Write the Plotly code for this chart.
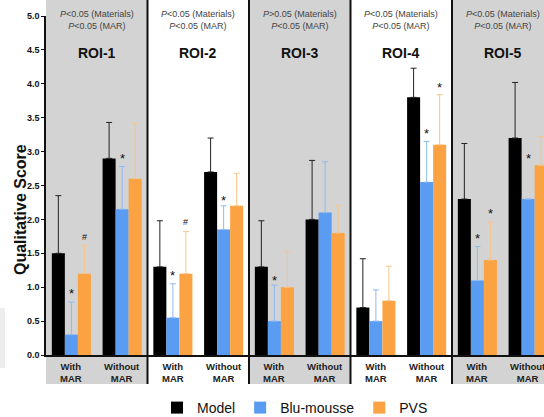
import plotly.graph_objects as go

rois = ["ROI-1", "ROI-2", "ROI-3", "ROI-4", "ROI-5"]
conditions = ["With<br>MAR", "Without<br>MAR"]
p_materials = ["<", "<", ">", "<", "<"]
p_mar = ["<", "<", "<", "<", "<"]

# values in order: ROI-1 With, ROI-1 Without, ROI-2 With, ...
model = [1.5, 2.9, 1.3, 2.7, 1.3, 2.0, 0.7, 3.8, 2.3, 3.2]
model_err = [0.85, 0.53, 0.68, 0.5, 0.68, 0.87, 0.72, 0.43, 0.82, 0.82]
blu = [0.3, 2.15, 0.55, 1.85, 0.5, 2.1, 0.5, 2.55, 1.1, 2.3]
blu_err = [0.48, 0.63, 0.5, 0.35, 0.53, 0.75, 0.46, 0.6, 0.5, 0.0]
pvs = [1.2, 2.6, 1.2, 2.2, 1.0, 1.8, 0.8, 3.1, 1.4, 2.8]
pvs_err = [0.42, 0.82, 0.62, 0.48, 0.53, 0.4, 0.51, 0.74, 0.56, 0.42]

# significance marks: (bar index, series, symbol, y value)
marks = [
    (0, 1, "*", 0.9), (0, 2, "#", 1.74), (1, 1, "*", 2.9),
    (2, 1, "*", 1.17), (2, 2, "#", 1.96), (3, 1, "*", 2.28),
    (4, 1, "*", 1.1), (7, 1, "*", 3.27), (7, 2, "*", 3.95),
    (8, 1, "*", 1.72), (8, 2, "*", 2.08), (9, 1, "*", 2.9),
]

FONT = "Arial, Liberation Sans, sans-serif"
BAR_COLORS = ["#000000", "#5A9CF2", "#FBA242"]
ERR_COLORS = ["#222222", "#8DBBF4", "#F9C48A"]
NAMES = ["Model", "Blu-mousse", "PVS"]

xpos = [r + 0.25 + 0.5 * c for r in range(len(rois)) for c in range(len(conditions))]

fig = go.Figure()
for s, (vals, errs) in enumerate([(model, model_err), (blu, blu_err), (pvs, pvs_err)]):
    fig.add_trace(go.Bar(
        x=xpos, y=vals, name=NAMES[s], marker_color=BAR_COLORS[s], marker_line_width=0,
        error_y=dict(type="data", array=errs, arrayminus=[0] * len(errs), symmetric=False,
                     color=ERR_COLORS[s], thickness=1, width=3),
        hoverinfo="skip",
    ))

plot_h = 417 - 16 - 62
top_ext = 1 + 16 / plot_h
bot_ext = -29 / plot_h

shapes = []
for r in range(len(rois)):
    if r % 2 == 0:
        shapes.append(dict(type="rect", xref="x", yref="paper", x0=r, x1=r + 1,
                           y0=bot_ext, y1=top_ext + 0.1, fillcolor="#D3D3D3",
                           line_width=0, layer="below"))
for r in range(1, len(rois)):
    shapes.append(dict(type="line", xref="x", yref="paper", x0=r, x1=r,
                       y0=bot_ext, y1=top_ext + 0.1, line=dict(color="#111111", width=2)))
# faint block at the far left edge
shapes.append(dict(type="rect", xref="paper", yref="paper", x0=-46 / 498, x1=-41 / 498,
                   y0=-13 / plot_h, y1=47 / plot_h, fillcolor="#EDEDED", line_width=0,
                   layer="below"))

ann = []
for r, name in enumerate(rois):
    ann.append(dict(x=r + 0.5, y=4.45, xref="x", yref="y", text=f"<b>{name}</b>",
                    showarrow=False, font=dict(size=14, family=FONT, color="#111111")))
    ann.append(dict(x=r + 0.5, y=top_ext - 20 / plot_h, xref="x", yref="paper",
                    text=f"<i>P</i>{p_materials[r]}0.05 (Materials)<br><i>P</i>{p_mar[r]}0.05 (MAR)",
                    showarrow=False, yanchor="middle",
                    font=dict(size=9, family=FONT, color="#444444")))
    for c, cond in enumerate(conditions):
        ann.append(dict(x=r + 0.25 + 0.5 * c, y=-17 / plot_h, xref="x", yref="paper",
                        text=f"<b>{cond}</b>", showarrow=False, yanchor="middle",
                        font=dict(size=9.5, family=FONT, color="#222222")))

bar_w = 0.5 * (1 - 0.23) / 3
for idx, s, sym, yv in marks:
    ann.append(dict(x=xpos[idx] + (s - 1) * bar_w, y=yv, xref="x", yref="y", text=sym,
                    showarrow=False, yanchor="middle",
                    font=dict(size=13 if sym == "*" else 9, family=FONT, color="#111111")))

ann.append(dict(x=-26 / 498, y=(355 - 210) / plot_h, xref="paper", yref="paper",
                text="<b>Qualitative Score</b>", textangle=-90, showarrow=False,
                xanchor="center", yanchor="middle",
                font=dict(size=16, family=FONT, color="#111111")))

fig.update_layout(
    width=544, height=417,
    margin=dict(l=46, r=0, t=16, b=62, autoexpand=False),
    paper_bgcolor="white", plot_bgcolor="white",
    barmode="group", bargap=0.23, bargroupgap=0,
    shapes=shapes, annotations=ann,
    font=dict(family=FONT),
    showlegend=True,
    legend=dict(orientation="h", x=0.5, xanchor="center", y=-53 / plot_h, yanchor="middle",
                font=dict(size=14, family=FONT, color="#111111"), itemwidth=30),
    xaxis=dict(range=[0, 498 / 101.5], showticklabels=False, ticks="", showgrid=False,
               zeroline=False, showline=True, linecolor="#111111", linewidth=1.5,
               automargin=False),
    yaxis=dict(range=[0, 5.0], dtick=0.5, tickformat=".1f", showgrid=False, zeroline=False,
               showline=True, linecolor="#111111", linewidth=1.5, ticks="outside", ticklen=3,
               tickcolor="#111111", tickfont=dict(size=9, family=FONT, color="#111111"),
               tickprefix="<b>", ticksuffix="</b>", automargin=False),
)

fig.write_html("out.html", config={"displayModeBar": False},
               post_script="document.body.style.margin='0';")
